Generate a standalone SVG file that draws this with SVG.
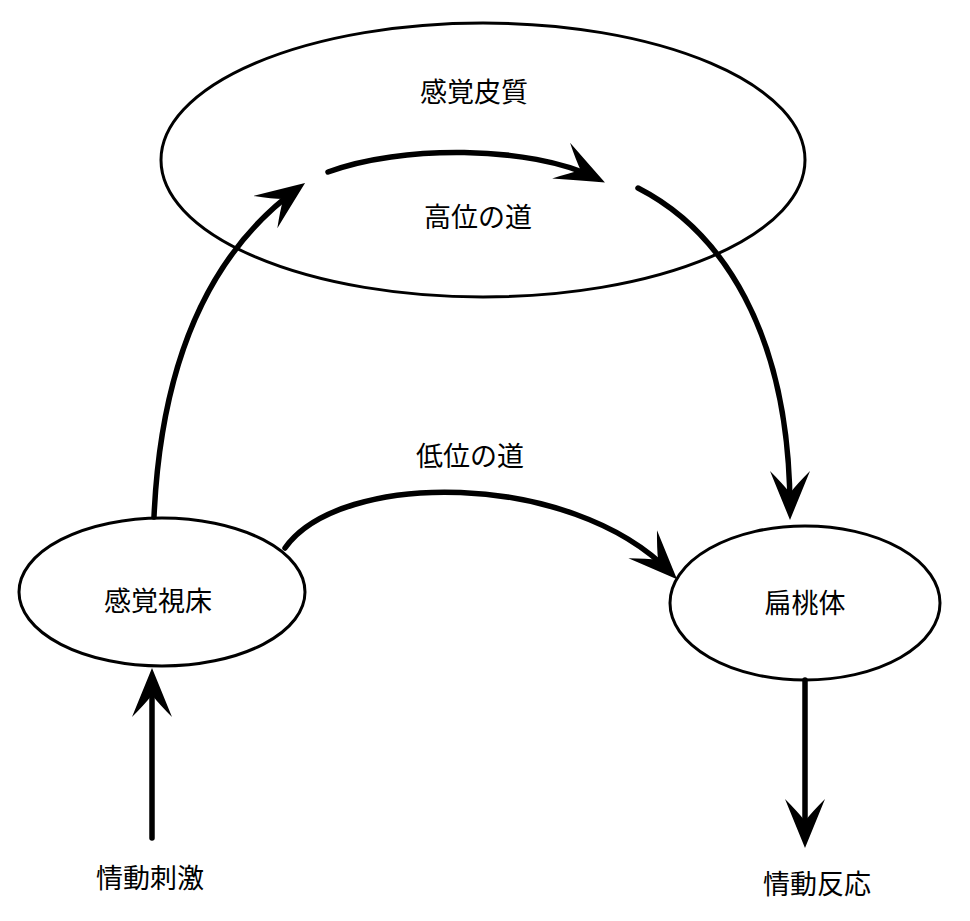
<svg xmlns="http://www.w3.org/2000/svg" width="970" height="921" viewBox="0 0 970 921">
<style>
.node{fill:none;stroke:#000;stroke-width:3}
.lbl{font-family:"Noto Sans CJK JP","Noto Sans CJK SC",sans-serif;font-size:27px;fill:#000;text-anchor:middle}
.arr{fill:none;stroke:#000;stroke-width:5.5;stroke-linecap:round;marker-end:url(#ah)}
</style>
<defs>
<marker id="ah" markerUnits="userSpaceOnUse" viewBox="-50 -22 62 44" refX="0" refY="0" markerWidth="62" markerHeight="44" orient="auto">
<path d="M10,0 Q-12,-9 -39,-20 Q-26,-7 -17,0 Q-26,7 -39,20 Q-12,9 10,0 Z" fill="#000"/>
</marker>
</defs>
<rect width="970" height="921" fill="#fff"/>
<g id="cortex">
<ellipse class="node" cx="483" cy="160" rx="322" ry="137"/>
<text class="lbl" x="474" y="102">感覚皮質</text>
</g>
<g id="thalamus">
<ellipse class="node" cx="162" cy="592" rx="143" ry="74"/>
<text class="lbl" x="158" y="611">感覚視床</text>
</g>
<g id="amygdala">
<ellipse class="node" cx="805" cy="603" rx="135" ry="77"/>
<text class="lbl" x="805" y="613">扁桃体</text>
</g>
<g id="stimulus">
<text class="lbl" x="150" y="888">情動刺激</text>
</g>
<g id="response">
<text class="lbl" x="817" y="894">情動反応</text>
</g>
<g id="connectors">
<path class="arr" d="M152,838 L152,678"/>
<path class="arr" d="M154,517 C160,380 200,260 297,189"/>
<path class="arr" d="M328,172 C400,145 530,145 596,178"/>
<path class="arr" d="M638,188 C720,230 790,330 790,510"/>
<path class="arr" d="M285,548 C340,470 570,470 670,572"/>
<path class="arr" d="M805,680 L805,838"/>
</g>
<g id="labels">
<text class="lbl" x="478" y="227">高位の道</text>
<text class="lbl" x="470" y="466">低位の道</text>
</g>
</svg>
